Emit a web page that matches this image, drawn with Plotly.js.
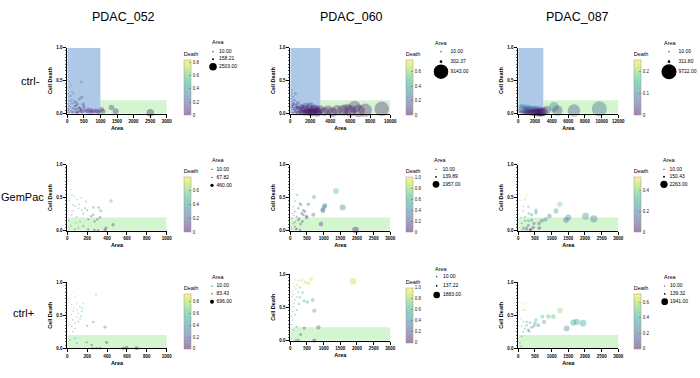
<!DOCTYPE html>
<html><head><meta charset="utf-8">
<script src="https://cdn.plot.ly/plotly-3.0.1.min.js"></script>
<style>html,body{margin:0;padding:0;background:#fff}#chart{width:700px;height:378px}</style>
</head><body><div id="chart"></div>
<script>
// ---------------- DATA ----------------
const samples = ['PDAC_052', 'PDAC_060', 'PDAC_087'];
const conditions = ['ctrl-', 'GemPac', 'ctrl+'];

// ctrl- row
const area_052_ctrlNeg = [70,424,120,60,190,150,370,440,80,40,100,130,200,260,300,50,90,160,220,280,340,30,120,180,250,330,400,450,525,600,640,730,800,880,950,1030,1080,1330,1460,2503,20,60,140,230,380,500,700,150,310,420,25,35,110,210,480,15,45,270];
const death_052_ctrlNeg = [0.49,0.48,0.43,0.40,0.30,0.33,0.22,0.25,0.26,0.20,0.18,0.21,0.16,0.12,0.14,0.12,0.10,0.08,0.07,0.06,0.09,0.05,0.04,0.03,0.02,0.03,0.04,0.02,0.05,0.03,0.06,0.05,0.03,0.04,0.02,0.06,0.035,0.09,0.035,0.01,0.08,0.02,0.15,0.11,0.08,0.10,0.02,0.01,0.01,0.06,0.30,0.15,0.27,0.19,0.14,0.02,0.06,0.17];

const area_060_ctrlNeg = [170,500,100,250,60,400,150,300,80,600,200,350,120,450,700,900,1100,1300,1500,1700,1900,2100,2300,2600,2800,50,250,550,800,1000,1200,1400,1600,1800,2000,2200,2400,2700,670,1170,2000,2500,3000,3770,4670,5270,5670,6000,6430,6830,7500,9143,350,750,130,220,30,1500,3400,4200];
const death_060_ctrlNeg = [0.36,0.30,0.28,0.25,0.22,0.20,0.18,0.15,0.14,0.12,0.10,0.08,0.06,0.05,0.09,0.07,0.10,0.06,0.08,0.05,0.09,0.04,0.07,0.05,0.03,0.02,0.01,0.02,0.01,0.03,0.02,0.01,0.02,0.015,0.02,0.01,0.025,0.01,0.085,0.10,0.12,0.08,0.06,0.05,0.05,0.05,0.06,0.04,0.10,0.04,0.05,0.07,0.14,0.16,0.32,0.12,0.10,0.12,0.03,0.02];

const area_087_ctrlNeg = [120,80,200,350,500,650,800,950,1100,1250,1400,1600,1800,2000,2200,2400,2600,2800,50,150,300,450,600,750,900,1050,1200,1350,1500,1700,1900,2100,2300,2500,2700,2900,4280,4680,6680,9722,100,250,400,700,1000,3100,3400];
const death_087_ctrlNeg = [0.24,0.12,0.10,0.13,0.08,0.11,0.09,0.07,0.10,0.06,0.08,0.05,0.07,0.04,0.06,0.03,0.05,0.02,0.05,0.03,0.02,0.04,0.01,0.03,0.02,0.01,0.03,0.02,0.01,0.02,0.01,0.02,0.01,0.015,0.01,0.02,0.10,0.045,0.045,0.07,0.08,0.06,0.11,0.06,0.05,0.03,0.05];

// GemPac row
const area_052_gem = [27,34,47,67,94,141,188,54,77,111,144,178,201,262,315,336,440,460,389,379,211,309,77,128,211,275,302,262,94,44,34,161,111,272,161,20,120,60,85,240,330,15];
const death_052_gem = [0.77,0.62,0.54,0.52,0.47,0.50,0.44,0.39,0.37,0.34,0.31,0.34,0.31,0.35,0.35,0.30,0.45,0.09,0.04,0.01,0.02,0.00,0.02,0.14,0.17,0.14,0.17,0.24,0.21,0.24,0.07,0.07,0.04,0.01,0.26,0.45,0.40,0.30,0.12,0.22,0.20,0.15];

const area_060_gem = [90,60,210,140,290,320,540,710,1020,970,980,1040,1370,1570,690,920,1957,190,240,340,390,440,490,90,140,190,290,140,90,240,70,390,40,150,310,490,110,260,360,30,170];
const death_060_gem = [0.70,0.62,0.54,0.45,0.41,0.39,0.40,0.51,0.36,0.32,0.30,0.38,0.60,0.35,0.24,0.10,0.01,0.21,0.16,0.26,0.24,0.29,0.22,0.11,0.06,0.03,0.01,0.29,0.36,0.34,0.26,0.31,0.19,0.13,0.10,0.20,0.23,0.18,0.14,0.04,0.02];

const area_087_gem = [100,250,80,200,300,150,530,530,1250,1130,930,1500,1430,2020,2263,810,700,620,470,400,300,200,100,150,250,350,630,80,400,200,320,150,250,450,300,120,180,380];
const death_087_gem = [0.54,0.54,0.46,0.47,0.36,0.30,0.31,0.27,0.40,0.30,0.22,0.20,0.16,0.22,0.18,0.17,0.15,0.11,0.11,0.16,0.15,0.15,0.11,0.05,0.02,0.01,0.04,0.20,0.24,0.21,0.26,0.37,0.05,0.05,0.08,0.01,0.03,0.02];

// ctrl+ row
const area_052_ctrlPos = [128,67,44,289,77,94,161,44,67,128,154,60,111,145,44,94,128,54,111,77,262,201,379,44,77,54,27,77,195,245,396,255,295,329,564,696,94,597,100,140];
const death_052_ctrlPos = [0.91,0.86,0.81,0.81,0.78,0.68,0.68,0.66,0.61,0.63,0.61,0.56,0.53,0.56,0.51,0.48,0.45,0.43,0.40,0.38,0.40,0.34,0.32,0.33,0.30,0.25,0.13,0.15,0.09,0.05,0.09,0.00,0.00,0.00,0.00,0.00,0.08,0.01,0.58,0.49];

const area_060_ctrlPos = [1883,620,440,540,140,240,340,190,290,90,370,70,190,140,290,410,510,670,720,90,190,140,70,40,90,190,420,840,310,170,240,720,70,110,170,240,60,120,100,260,50];
const death_060_ctrlPos = [0.89,0.92,0.88,0.86,0.91,0.90,0.91,0.84,0.80,0.86,0.72,0.74,0.66,0.61,0.65,0.60,0.58,0.61,0.45,0.51,0.46,0.39,0.31,0.24,0.16,0.21,0.19,0.20,0.09,0.01,0.01,0.00,0.44,0.56,0.77,0.73,0.66,0.81,0.69,0.55,0.36];

const area_087_ctrlPos = [70,130,220,130,200,1250,720,900,1050,770,530,500,600,350,250,150,100,200,300,400,1450,1650,1750,1941,150,100,50,80,250,470,320,80];
const death_087_ctrlPos = [0.71,0.68,0.68,0.58,0.58,0.57,0.48,0.48,0.48,0.40,0.43,0.38,0.35,0.39,0.40,0.40,0.34,0.30,0.28,0.32,0.30,0.39,0.40,0.38,0.25,0.18,0.08,0.03,0.35,0.34,0.26,0.45];

// size-legend values (Area)
const legend_052_ctrlNeg = [10, 158.21, 2503];
const legend_060_ctrlNeg = [10, 302.37, 9143];
const legend_087_ctrlNeg = [10, 311.80, 9722];
const legend_052_gem = [10, 67.82, 460];
const legend_060_gem = [10, 139.89, 1957];
const legend_087_gem = [10, 150.43, 2263];
const legend_052_ctrlPos = [10, 83.43, 696];
const legend_060_ctrlPos = [10, 137.22, 1883];
const legend_087_ctrlPos = [10, 139.32, 1941];

// colour range (Death) per panel
const deathMax = [0.83, 0.76, 0.25, 0.79, 1.0, 0.53, 0.94, 1.0, 0.71];
const deathTicks = [[0,0.2,0.4,0.6,0.8],[0,0.2,0.4,0.6],[0,0.1,0.2],[0,0.2,0.4,0.6],[0,0.2,0.4,0.6,0.8,1.0],[0,0.2,0.4],[0,0.2,0.4,0.6,0.8],[0,0.2,0.4,0.6,0.8,1.0],[0,0.2,0.4,0.6]];

// axis ranges / gates
const areaAxisMax = [3000, 10000, 12000, 1000, 3000, 3000, 1000, 3000, 3000];
const areaTickStep = [500, 2000, 2000, 200, 500, 500, 200, 500, 500];
const areaGate = [1000, 3000, 3000];   // blue gate (ctrl- row)
const deathGate = 0.2;                  // green gate

// ---------------- LAYOUT CONSTANTS ----------------
const W = 700, H = 378;
const FONT = 'Liberation Sans, Arial, sans-serif';
const SIZEREF = 86;
const panels = [
  [area_052_ctrlNeg, death_052_ctrlNeg, legend_052_ctrlNeg],
  [area_060_ctrlNeg, death_060_ctrlNeg, legend_060_ctrlNeg],
  [area_087_ctrlNeg, death_087_ctrlNeg, legend_087_ctrlNeg],
  [area_052_gem, death_052_gem, legend_052_gem],
  [area_060_gem, death_060_gem, legend_060_gem],
  [area_087_gem, death_087_gem, legend_087_gem],
  [area_052_ctrlPos, death_052_ctrlPos, legend_052_ctrlPos],
  [area_060_ctrlPos, death_060_ctrlPos, legend_060_ctrlPos],
  [area_087_ctrlPos, death_087_ctrlPos, legend_087_ctrlPos]
];
const colX = [[67.3,166.7],[290.3,390.3],[518.3,618.3]];
const panelY = [[47.7,113.5],[47.7,113.5],[47.7,113.5],[164.5,230.7],[164.5,230.7],[164.5,230.7],[282.3,348.3],[274,340.7],[282.3,348.3]];
const cbX = [184, 406, 634];
const cbTop = [49.3,49.3,49.3,166,166,166,282.7,276.7,282.7];
const legMarkX = [213,441,669,212,436,664,212,436.7,664.7];
const legLabX = [219,450.5,678.5,216.5,442.5,669.5,216.5,443,670];
const legYs = [[51.7,66.7],[51.7,71.7],[51.7,71.7],[169.3,185.3],[169.3,184.3],[169.3,184.3],[286,301.7],[276.7,295],[286,301.7]];
const areaTitlePos = [[210,42.3],[433,42.7],[661.7,43],[210,160],[432,160],[661,160],[210,276.7],[432.7,269.3],[661.7,276.7]];
const colTitleX = [123, 351.5, 577];
const colTitleY = 17;
const rowLabelPos = [[30,80.5],[22,197],[23.5,313]];

const viridis = ['#440154','#48186a','#472d7b','#424086','#3b528b','#33638d','#2c728e','#26828e','#21918c','#1fa088','#28ae80','#3fbc73','#5ec962','#84d44b','#addc30','#d8e219','#fde725'];
function rgba(h, a){const n=parseInt(h.slice(1),16);return 'rgba('+((n>>16)&255)+','+((n>>8)&255)+','+(n&255)+','+a+')';}
const cscale = viridis.map((h,i)=>[i/(viridis.length-1), rgba(h,0.5)]);
const px = v => v / W;
const py = v => 1 - v / H;

const data = [];
const layout = {
  width: W, height: H, margin: {l:0,r:0,t:0,b:0},
  paper_bgcolor: '#fff', plot_bgcolor: 'rgba(0,0,0,0)',
  showlegend: false, font: {family: FONT, color: '#000'},
  shapes: [], annotations: []
};

panels.forEach((p, i) => {
  const [area, death, legVals] = p;
  const r = Math.floor(i/3), c = i % 3;
  const id = i === 0 ? '' : String(i+1);
  const xa = 'x' + id, ya = 'y' + id;
  layout['xaxis' + id] = {
    domain: [px(colX[c][0]), px(colX[c][1])], anchor: ya,
    range: [0, areaAxisMax[i]], dtick: areaTickStep[i], tick0: 0, tickformat: 'd', exponentformat: 'none',
    showline: true, linecolor: '#000', linewidth: 1, mirror: false,
    ticks: 'outside', ticklen: 3, tickwidth: 1, tickcolor: '#000',
    tickfont: {size: 4.5, weight: 'bold', family: FONT},
    showgrid: false, zeroline: false, fixedrange: true,
    title: {text: 'Area', font: {size: 5.5, weight: 'bold', family: FONT}, standoff: 3}
  };
  layout['yaxis' + id] = {
    domain: [py(panelY[i][1]), py(panelY[i][0])], anchor: xa,
    range: [0, 1], dtick: 0.5, tick0: 0, tickformat: '.1f',
    showline: true, linecolor: '#000', linewidth: 1,
    ticks: 'outside', ticklen: 3, tickwidth: 1, tickcolor: '#000',
    minor: {ticks: 'outside', dtick: 0.05, ticklen: 1.5, tickwidth: 0.6, tickcolor: '#000'},
    tickfont: {size: 4.5, weight: 'bold', family: FONT},
    showgrid: false, zeroline: false, fixedrange: true,
    title: {text: 'Cell Death', font: {size: 5.5, weight: 'bold', family: FONT}, standoff: 3}
  };
  // gates
  if (r === 0) {
    layout.shapes.push({type:'rect', xref: xa, yref: ya, x0: 0, x1: areaGate[c], y0: 0, y1: 1,
      fillcolor: 'rgba(120,165,215,0.6)', line: {width: 0}, layer: 'below'});
  }
  layout.shapes.push({type:'rect', xref: xa, yref: ya, x0: r === 0 ? areaGate[c] : 0, x1: areaAxisMax[i], y0: 0, y1: deathGate,
    fillcolor: 'rgba(150,230,140,0.42)', line: {width: 0}, layer: 'below'});

  data.push({
    type: 'scatter', mode: 'markers', x: area, y: death, xaxis: xa, yaxis: ya,
    cliponaxis: false, hoverinfo: 'x+y',
    marker: {
      size: area, sizemode: 'area', sizeref: SIZEREF, sizemin: 0.8,
      color: death, colorscale: cscale, cmin: 0, cmax: deathMax[i],
      line: {width: 0}, showscale: true,
      colorbar: {
        x: px(cbX[c]), xanchor: 'left', xref: 'paper', y: py(cbTop[i]), yanchor: 'top', yref: 'paper',
        len: 66, lenmode: 'pixels', thickness: 7, thicknessmode: 'pixels',
        xpad: 0, ypad: 0, outlinewidth: 0.5, outlinecolor: '#999', borderwidth: 0,
        tickvals: deathTicks[i], ticktext: deathTicks[i].map(v => v === 0 ? '0' : v.toFixed(1)),
        ticks: 'inside', ticklen: 2, tickwidth: 0.5, tickcolor: '#555',
        tickfont: {size: 4.5, family: FONT, color: '#222'},
        title: {text: 'Death', side: 'top', font: {size: 5.5, family: FONT, color: '#000'}}
      }
    }
  });

  // size legend on hidden axes
  const lid = String(10 + i);
  layout['xaxis' + lid] = {domain: [px(legMarkX[i]), px(legLabX[i])], range: [0, 1], visible: false, fixedrange: true, anchor: 'y' + lid};
  layout['yaxis' + lid] = {domain: [py(legYs[i][1]), py(legYs[i][0])], range: [legVals.length - 1, 0], visible: false, fixedrange: true, anchor: 'x' + lid};
  data.push({
    type: 'scatter', mode: 'markers', x: legVals.map(() => 0), y: legVals.map((v, k) => k),
    xaxis: 'x' + lid, yaxis: 'y' + lid, cliponaxis: false, hoverinfo: 'skip',
    marker: {size: legVals, sizemode: 'area', sizeref: SIZEREF, sizemin: 0.6, color: '#000', opacity: 1, line: {width: 0}}
  });
  data.push({
    type: 'scatter', mode: 'text', x: legVals.map(() => 1), y: legVals.map((v, k) => k),
    xaxis: 'x' + lid, yaxis: 'y' + lid, cliponaxis: false, hoverinfo: 'skip',
    text: legVals.map(v => v.toFixed(2)), textposition: 'middle right',
    marker: {size: 0}, textfont: {size: 5, family: FONT, color: '#000'}
  });
  layout.annotations.push({text: 'Area', xref: 'paper', yref: 'paper', x: px(areaTitlePos[i][0]), y: py(areaTitlePos[i][1]),
    xanchor: 'left', yanchor: 'middle', showarrow: false, font: {size: 5.5, family: FONT, color: '#000'}});
});

samples.forEach((s, c) => layout.annotations.push({text: s, xref: 'paper', yref: 'paper', x: px(colTitleX[c]), y: py(colTitleY),
  xanchor: 'center', yanchor: 'middle', showarrow: false, font: {size: 12.5, family: FONT, color: '#000'}}));
conditions.forEach((s, r) => layout.annotations.push({text: s, xref: 'paper', yref: 'paper', x: px(rowLabelPos[r][0]), y: py(rowLabelPos[r][1]),
  xanchor: 'center', yanchor: 'middle', showarrow: false, font: {size: 11, family: FONT, color: '#000'}}));

Plotly.newPlot('chart', data, layout, {staticPlot: true, displayModeBar: false});
</script>
</body></html>
